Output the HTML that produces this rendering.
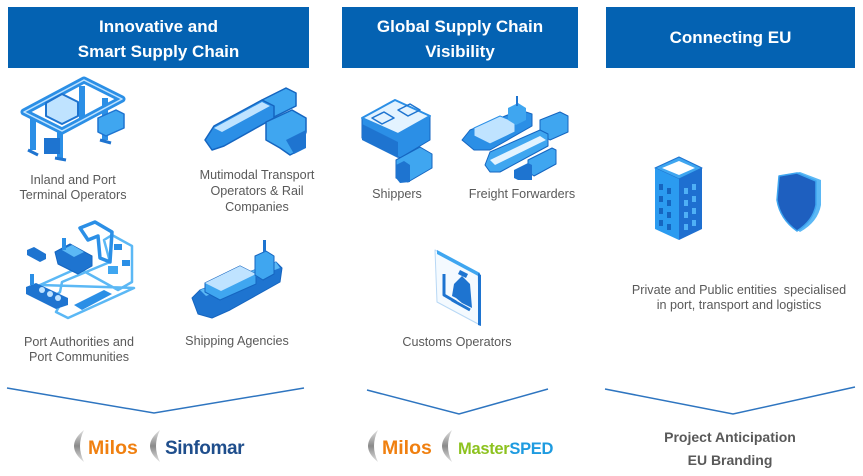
<!DOCTYPE html>
<html><head><meta charset="utf-8"><style>
html,body{margin:0;padding:0;background:#fff;}
svg{display:block;}
.h{font-family:"Liberation Sans",sans-serif;font-weight:bold;font-size:17px;fill:#fff;text-anchor:middle;}
.l{font-family:"Liberation Sans",sans-serif;font-size:12.6px;fill:#595959;text-anchor:middle;}
.b{font-family:"Liberation Sans",sans-serif;font-size:14px;font-weight:bold;fill:#595959;text-anchor:middle;}
.lg{font-family:"Liberation Sans",sans-serif;font-weight:bold;}
</style></head><body>
<svg width="863" height="476" viewBox="0 0 863 476" xmlns="http://www.w3.org/2000/svg">
<defs>
<linearGradient id="par" x1="0" y1="0" x2="0" y2="1">
<stop offset="0" stop-color="#e0e0e0"/><stop offset="0.5" stop-color="#8a8a8a"/><stop offset="1" stop-color="#e0e0e0"/>
</linearGradient>
</defs>
<!-- headers -->
<rect x="8" y="7" width="301" height="61" fill="#0462B2"/>
<rect x="342" y="7" width="236" height="61" fill="#0462B2"/>
<rect x="606" y="7" width="249" height="61" fill="#0462B2"/>
<text class="h" x="158.5" y="32">Innovative and</text>
<text class="h" x="158.5" y="57">Smart Supply Chain</text>
<text class="h" x="460" y="32">Global Supply Chain</text>
<text class="h" x="460" y="57">Visibility</text>
<text class="h" x="730.5" y="43">Connecting EU</text>

<!-- crane icon -->
<g stroke-linejoin="round">
<line x1="33" y1="117" x2="33" y2="150" stroke="#2B8FE6" stroke-width="6"/>
<line x1="60" y1="131" x2="60" y2="160" stroke="#2B8FE6" stroke-width="6"/>
<line x1="82" y1="86" x2="82" y2="122" stroke="#2B8FE6" stroke-width="6"/>
<line x1="105" y1="98" x2="105" y2="140" stroke="#2B8FE6" stroke-width="6"/>
<polygon points="24,112 84,80 122,99 62,131" fill="none" stroke="#2B8FE6" stroke-width="7"/>
<polygon points="24,112 84,80 122,99 62,131" fill="none" stroke="#BFE3FF" stroke-width="1.5"/>
<polygon points="46,103 62,94 78,102 78,116 62,124 46,116" fill="#BFE3FF" stroke="#1E74D0" stroke-width="2"/>
<polygon points="98,118 116,110 124,114 124,128 106,136 98,132" fill="#3FA6F0" stroke="#1E74D0" stroke-width="1.5"/>
<rect x="44" y="138" width="16" height="16" fill="#1E74D0"/>
<line x1="28" y1="150" x2="38" y2="155" stroke="#1E74D0" stroke-width="3"/>
<line x1="55" y1="158" x2="66" y2="160" stroke="#1E74D0" stroke-width="3"/>
<line x1="100" y1="140" x2="111" y2="143" stroke="#1E74D0" stroke-width="3"/>
</g>

<!-- train icon -->
<g stroke-linejoin="round">
<polygon points="262,100 286,88 296,93 296,106 272,118 262,113" fill="#3FA6F0" stroke="#1565C0" stroke-width="1.5"/>
<polygon points="205,140 214,126 262,100 274,106 274,118 224,146 212,150" fill="#2B8FE6" stroke="#1565C0" stroke-width="1.5"/>
<polygon points="214,128 262,102 270,106 222,132" fill="#BFE3FF"/>
<polygon points="266,122 292,110 306,118 306,132 300,150 290,155 280,148 266,140" fill="#3FA6F0" stroke="#1565C0" stroke-width="1.5"/>
<polygon points="286,140 306,130 306,148 294,154" fill="#1E74D0"/>
</g>

<!-- port icon -->
<g stroke-linejoin="round">
<polygon points="40,285 78,268 118,290 132,282 132,246 112,235 104,240 110,262 62,282 60,292 50,300 60,305 56,312 68,318 134,288" fill="none" stroke="#5BB8F5" stroke-width="2.5"/>
<polygon points="55,252 70,244 92,256 92,266 78,274 58,264" fill="#1E74D0" stroke="#1565C0" stroke-width="1"/>
<polygon points="62,250 72,245 84,252 74,257" fill="#5BB8F5"/>
<rect x="62" y="238" width="4" height="12" fill="#2B8FE6"/>
<polygon points="26,287 36,283 68,298 68,305 56,309 26,294" fill="#1E74D0"/>
<circle cx="42" cy="290" r="3" fill="#BFE3FF"/><circle cx="50" cy="294" r="3" fill="#BFE3FF"/><circle cx="58" cy="298" r="3" fill="#BFE3FF"/>
<rect x="30" y="274" width="4" height="11" fill="#2B8FE6"/>
<polygon points="27,250 34,247 46,254 46,259 40,262 27,255" fill="#1E74D0"/>
<polygon points="80,228 95,222 112,232 110,262 100,258 98,236 88,240" fill="none" stroke="#2B8FE6" stroke-width="3.5"/>
<polygon points="74,305 104,290 112,294 82,310" fill="#2B8FE6"/>
<rect x="122" y="260" width="8" height="6" fill="#2B8FE6"/>
<rect x="114" y="244" width="8" height="6" fill="#2B8FE6"/>
<rect x="108" y="266" width="10" height="8" fill="#3FA6F0"/>
</g>

<!-- ship icon -->
<g stroke-linejoin="round">
<polygon points="192,298 200,290 276,262 282,268 280,282 230,310 212,318 198,314" fill="#1E74D0" stroke="#1565C0" stroke-width="1"/>
<polygon points="200,290 276,262 280,268 206,296" fill="#5BB8F5"/>
<polygon points="205,283 240,266 256,274 256,284 220,300 205,292" fill="#3FA6F0" stroke="#1565C0" stroke-width="1"/>
<polygon points="205,283 240,266 256,274 221,291" fill="#BFE3FF"/>
<polygon points="255,256 266,251 274,256 274,274 263,280 255,275" fill="#3FA6F0" stroke="#1565C0" stroke-width="1"/>
<rect x="263" y="240" width="3" height="12" fill="#1E74D0"/>
</g>

<!-- warehouse icon -->
<g stroke-linejoin="round">
<polygon points="362,118 395,100 430,116 430,140 400,158 362,138" fill="#2B8FE6" stroke="#1565C0" stroke-width="1"/>
<polygon points="362,118 395,100 430,116 398,134" fill="#E3F3FF" stroke="#2B8FE6" stroke-width="2"/>
<polygon points="372,118 384,112 394,118 382,124" fill="none" stroke="#1E74D0" stroke-width="1.5"/>
<polygon points="398,110 410,104 420,110 408,116" fill="none" stroke="#1E74D0" stroke-width="1.5"/>
<polygon points="362,124 398,142 398,158 362,140" fill="#1E74D0"/>
<polygon points="396,160 420,147 432,154 432,168 408,182 396,178" fill="#3FA6F0" stroke="#1565C0" stroke-width="1"/>
<polygon points="396,165 404,161 410,165 410,182 400,183 396,178" fill="#1E74D0"/>
</g>

<!-- freight forwarders icon -->
<g stroke-linejoin="round">
<polygon points="462,140 470,130 520,110 532,114 532,126 490,150 474,150" fill="#2B8FE6" stroke="#1565C0" stroke-width="1"/>
<polygon points="474,128 500,116 515,122 515,132 490,144 474,136" fill="#BFE3FF" stroke="#2B8FE6" stroke-width="1"/>
<polygon points="508,108 518,103 526,108 526,120 516,125 508,120" fill="#3FA6F0"/>
<rect x="516" y="96" width="2" height="10" fill="#1E74D0"/>
<polygon points="540,120 560,112 568,116 568,132 550,140 540,134" fill="#3FA6F0" stroke="#1565C0" stroke-width="1"/>
<polygon points="485,165 490,152 540,130 548,134 548,146 500,172 490,172" fill="#3FA6F0" stroke="#1565C0" stroke-width="1"/>
<polygon points="490,160 540,136 546,140 495,165" fill="#E3F3FF"/>
<polygon points="528,160 552,148 556,150 556,164 534,176 528,172" fill="#3FA6F0" stroke="#1565C0" stroke-width="1"/>
<polygon points="514,170 528,163 532,165 532,180 518,180 514,178" fill="#1E74D0"/>
</g>

<!-- customs icon -->
<g stroke-linejoin="round">
<polygon points="435,250 478,273 480,325 437,302" fill="#F4FAFF" stroke="#B8D8F5" stroke-width="1"/>
<polygon points="437,250 480,273 480,277 437,254" fill="#3FA6F0"/>
<polygon points="478,273 481,275 481,326 478,325" fill="#1E74D0"/>
<path d="M444 274 L444 295 L456 302" fill="none" stroke="#1E74D0" stroke-width="3"/>
<polygon points="454,284 462,276 470,284 472,308 462,303 456,298 452,296" fill="#1E74D0"/>
<polygon points="460,270 468,274 466,278 458,274" fill="#1E74D0"/>
<path d="M452 300 L470 310" stroke="#1E74D0" stroke-width="3"/>
</g>

<!-- building icon -->
<g stroke-linejoin="round">
<polygon points="655,168 679,157 702,168 679,179" fill="#3FA6F0" stroke="#1E74D0" stroke-width="1"/>
<polygon points="662,168 679,161 695,168 679,175" fill="#fff"/>
<polygon points="655,168 679,179 679,240 655,229" fill="#2B9BF0"/>
<polygon points="679,179 702,168 702,229 679,240" fill="#1E6FD0"/>
<g fill="#1565C0">
<rect x="659" y="184" width="4" height="6"/><rect x="667" y="188" width="4" height="6"/>
<rect x="659" y="196" width="4" height="6"/><rect x="667" y="200" width="4" height="6"/>
<rect x="659" y="208" width="4" height="6"/><rect x="667" y="212" width="4" height="6"/>
<rect x="659" y="220" width="4" height="6"/><rect x="667" y="224" width="4" height="6"/>
</g>
<g fill="#4FB0F5">
<rect x="684" y="188" width="4" height="6"/><rect x="692" y="184" width="4" height="6"/>
<rect x="684" y="200" width="4" height="6"/><rect x="692" y="196" width="4" height="6"/>
<rect x="684" y="212" width="4" height="6"/><rect x="692" y="208" width="4" height="6"/>
<rect x="684" y="224" width="4" height="6"/><rect x="692" y="220" width="4" height="6"/>
</g>
</g>

<!-- shield icon -->
<g stroke-linejoin="round">
<path d="M782 175 L800 172 L821 180 L821 205 Q818 222 800 232 Q782 220 778 200 Z" fill="#5BB8F5"/>
<path d="M779 176 L797 173 L816 181 L816 205 Q813 221 797 231 Q780 219 777 200 Z" fill="#1E5FBF" stroke="#3FA6F0" stroke-width="1.5"/>
</g>

<!-- labels -->
<text class="l" x="73" y="184">Inland and Port</text>
<text class="l" x="73" y="199">Terminal Operators</text>
<text class="l" x="257" y="179">Mutimodal Transport</text>
<text class="l" x="257" y="195">Operators &amp; Rail</text>
<text class="l" x="257" y="211">Companies</text>
<text class="l" x="79" y="346">Port Authorities and</text>
<text class="l" x="79" y="361">Port Communities</text>
<text class="l" x="237" y="345">Shipping Agencies</text>
<text class="l" x="397" y="198">Shippers</text>
<text class="l" x="522" y="198">Freight Forwarders</text>
<text class="l" x="457" y="346">Customs Operators</text>
<text class="l" x="739" y="294" xml:space="preserve">Private and Public entities  specialised</text>
<text class="l" x="739" y="309">in port, transport and logistics</text>

<!-- V lines -->
<polyline points="7,388 154,413 304,388" fill="none" stroke="#2E75C0" stroke-width="1.5"/>
<polyline points="367,390 459,414 548,389" fill="none" stroke="#2E75C0" stroke-width="1.5"/>
<polyline points="605,389 733,414 855,387" fill="none" stroke="#2E75C0" stroke-width="1.5"/>

<!-- logos -->
<path d="M84 430 Q64 446 84 462 Q76 446 84 430 Z" fill="url(#par)"/>
<text class="lg" x="88" y="454" font-size="19.5" fill="#F08010">Milos</text>
<path d="M160 430 Q140 446 160 462 Q152 446 160 430 Z" fill="url(#par)"/>
<text class="lg" x="165" y="454" font-size="19" fill="#1F4E8C" letter-spacing="-0.4">Sinfomar</text>

<path d="M378 430 Q358 446 378 462 Q370 446 378 430 Z" fill="url(#par)"/>
<text class="lg" x="382" y="454" font-size="19.5" fill="#F08010">Milos</text>
<path d="M452 430 Q432 446 452 462 Q444 446 452 430 Z" fill="url(#par)"/>
<text class="lg" x="458" y="454" font-size="16.5" letter-spacing="-0.3"><tspan fill="#8DC21F">Master</tspan><tspan fill="#1E9BE0">SPED</tspan></text>

<text class="b" x="730" y="442">Project Anticipation</text>
<text class="b" x="730" y="465">EU Branding</text>
</svg>
</body></html>
